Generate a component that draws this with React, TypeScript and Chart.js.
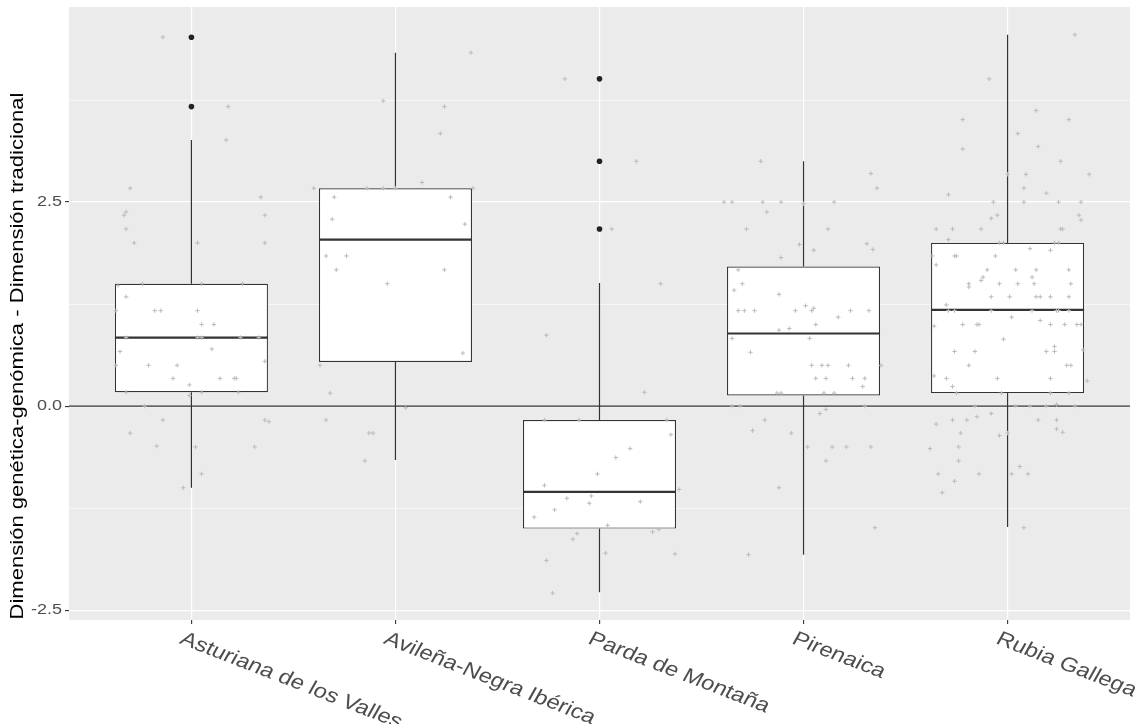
import { useEffect, useRef } from "react";
import { Chart, registerables } from "chart.js";

Chart.register(...registerables);

// ---------- data ----------
const categories = [
  "Asturiana de los Valles",
  "Avileña-Negra Ibérica",
  "Parda de Montaña",
  "Pirenaica",
  "Rubia Gallega",
];
const whiskerLow = [-1.0, -0.66, -2.28, -1.82, -1.48];
const q1 = [0.17, 0.54, -1.5, 0.13, 0.16];
const median = [0.84, 2.04, -1.05, 0.89, 1.18];
const q3 = [1.5, 2.67, -0.17, 1.71, 2.0];
const whiskerHigh = [3.26, 4.33, 1.51, 3.0, 4.55];
// [category number, value]
const outliers = [
  [1, 4.52],
  [1, 3.67],
  [3, 4.01],
  [3, 3.0],
  [3, 2.17],
];

// jittered observations: [horizontal jitter, value]
const jitterAsturiana = [
  [-0.14, 4.52], [0.18, 3.67], [0.17, 3.26], [-0.3, 2.67], [0.34, 2.56], [-0.32, 2.38], [-0.33, 2.34],
  [0.36, 2.34], [-0.32, 2.17], [-0.28, 2.0], [0.03, 2.0], [0.36, 2.0], [-0.36, 1.48], [-0.24, 1.5],
  [0.05, 1.5], [0.25, 1.5], [-0.32, 1.34], [-0.37, 1.17], [-0.18, 1.17], [-0.15, 1.17], [0.03, 1.17],
  [0.05, 1.0], [0.11, 1.0], [-0.32, 0.84], [0.03, 0.84], [0.05, 0.84], [0.24, 0.84], [0.33, 0.84],
  [-0.35, 0.67], [0.1, 0.7], [-0.37, 0.5], [-0.21, 0.5], [-0.07, 0.5], [0.36, 0.55], [-0.09, 0.34],
  [0.14, 0.34], [0.21, 0.34], [0.22, 0.34], [-0.01, 0.26], [-0.32, 0.17], [0.05, 0.17], [0.23, 0.17],
  [-0.01, 0.13], [-0.23, 0.0], [-0.14, -0.17], [0.36, -0.17], [0.38, -0.19], [-0.3, -0.33],
  [-0.17, -0.49], [0.02, -0.5], [0.31, -0.5], [0.05, -0.83], [-0.04, -1.0],
];
const jitterAvilena = [
  [0.37, 4.33], [-0.06, 3.74], [0.24, 3.67], [0.22, 3.34], [0.13, 2.74], [-0.4, 2.67], [-0.14, 2.67],
  [-0.06, 2.67], [0.0, 2.67], [0.38, 2.67], [-0.3, 2.56], [0.27, 2.56], [-0.31, 2.29], [0.34, 2.23],
  [-0.34, 1.84], [-0.24, 1.84], [-0.29, 1.67], [0.24, 1.67], [-0.04, 1.5], [0.33, 0.65], [-0.37, 0.5],
  [-0.32, 0.16], [0.05, -0.02], [-0.34, -0.17], [-0.13, -0.33], [-0.11, -0.33], [-0.15, -0.67],
];
const jitterParda = [
  [-0.17, 4.01], [0.18, 3.0], [0.06, 2.17], [0.3, 1.5], [-0.26, 0.87], [0.22, 0.17], [-0.27, -0.17],
  [-0.1, -0.17], [0.33, -0.17], [0.35, -0.35], [0.15, -0.52], [0.08, -0.63], [-0.01, -0.83],
  [-0.27, -0.97], [0.39, -1.02], [-0.16, -1.13], [-0.04, -1.1], [-0.05, -1.19], [0.2, -1.17],
  [-0.22, -1.27], [-0.32, -1.36], [0.04, -1.46], [-0.11, -1.56], [-0.13, -1.63], [0.29, -1.51],
  [0.26, -1.54], [-0.26, -1.89], [0.03, -1.8], [0.37, -1.81], [-0.23, -2.29],
];
const jitterPirenaica = [
  [-0.21, 3.0], [0.33, 2.85], [0.36, 2.67], [-0.39, 2.5], [-0.35, 2.5], [-0.2, 2.5], [-0.11, 2.5],
  [0.15, 2.5], [0.0, 2.48], [-0.18, 2.38], [-0.28, 2.17], [0.12, 2.17], [-0.02, 1.98], [0.05, 1.91],
  [0.31, 1.99], [0.34, 1.92], [-0.11, 1.82], [-0.32, 1.67], [-0.3, 1.5], [-0.34, 1.42], [-0.12, 1.37],
  [-0.32, 1.17], [-0.29, 1.17], [-0.24, 1.17], [-0.04, 1.17], [0.04, 1.17], [0.01, 1.23], [0.05, 1.2],
  [0.23, 1.17], [0.32, 1.17], [0.17, 1.09], [0.06, 1.0], [-0.12, 0.93], [-0.07, 0.95], [-0.35, 0.83],
  [0.03, 0.83], [-0.26, 0.66], [0.04, 0.5], [0.09, 0.5], [0.12, 0.5], [0.22, 0.5], [0.38, 0.5],
  [0.06, 0.34], [0.11, 0.34], [0.24, 0.34], [0.3, 0.34], [0.29, 0.24], [-0.13, 0.16], [-0.11, 0.16],
  [0.1, 0.16], [0.15, 0.16], [-0.35, 0.0], [-0.31, 0.0], [0.3, 0.0], [0.11, -0.04], [0.08, -0.09],
  [-0.19, -0.17], [-0.25, -0.3], [-0.06, -0.33], [0.02, -0.5], [0.14, -0.5], [0.21, -0.5], [0.33, -0.5],
  [0.11, -0.67], [-0.12, -1.0], [0.35, -1.49], [-0.27, -1.82],
];
const jitterRubia = [
  [0.33, 4.55], [-0.09, 4.01], [0.14, 3.62], [-0.22, 3.51], [0.3, 3.51], [0.05, 3.34], [-0.22, 3.15],
  [0.15, 3.18], [0.26, 3.0], [0.0, 2.84], [0.09, 2.84], [0.4, 2.84], [0.08, 2.67], [0.19, 2.61],
  [-0.29, 2.59], [-0.07, 2.5], [0.08, 2.5], [0.25, 2.5], [0.36, 2.5], [-0.05, 2.34], [-0.08, 2.3],
  [0.35, 2.34], [0.36, 2.28], [-0.35, 2.17], [-0.27, 2.17], [-0.13, 2.17], [0.26, 2.17], [0.27, 2.17],
  [-0.29, 2.04], [-0.04, 2.0], [-0.02, 2.0], [0.23, 2.0], [0.25, 2.0], [0.11, 1.93], [0.21, 1.91],
  [-0.37, 1.84], [-0.26, 1.84], [-0.25, 1.84], [-0.06, 1.84], [-0.35, 1.73], [-0.1, 1.67], [0.04, 1.67],
  [0.14, 1.67], [0.3, 1.67], [-0.12, 1.58], [-0.13, 1.54], [0.12, 1.58], [-0.19, 1.5], [-0.19, 1.46],
  [-0.04, 1.5], [0.05, 1.5], [0.13, 1.5], [0.31, 1.5], [-0.08, 1.34], [0.01, 1.34], [0.14, 1.34],
  [0.16, 1.34], [0.21, 1.34], [0.3, 1.34], [-0.3, 1.24], [-0.29, 1.17], [-0.26, 1.17], [-0.08, 1.17],
  [0.12, 1.17], [0.24, 1.17], [0.25, 1.17], [0.3, 1.17], [0.02, 1.09], [0.16, 1.05], [-0.36, 0.98],
  [-0.22, 1.0], [-0.15, 1.0], [-0.14, 1.0], [0.21, 1.0], [0.28, 1.0], [0.34, 1.0], [0.36, 1.0],
  [-0.02, 0.82], [0.23, 0.73], [0.37, 0.69], [-0.26, 0.67], [-0.16, 0.67], [0.19, 0.67], [0.23, 0.67],
  [-0.19, 0.5], [0.29, 0.5], [0.31, 0.5], [-0.36, 0.37], [-0.3, 0.34], [-0.05, 0.34], [0.21, 0.34],
  [0.39, 0.31], [-0.27, 0.24], [-0.25, 0.16], [-0.03, 0.16], [0.21, 0.16], [0.3, 0.16], [-0.16, 0.0],
  [0.04, 0.0], [0.11, 0.0], [0.19, 0.0], [0.33, 0.0], [0.24, 0.02], [-0.08, -0.09], [-0.15, -0.13],
  [-0.35, -0.22], [-0.27, -0.17], [-0.2, -0.17], [0.15, -0.17], [0.24, -0.17], [0.24, -0.28],
  [0.27, -0.32], [-0.23, -0.33], [-0.04, -0.36], [0.0, -0.33], [-0.24, -0.5], [-0.38, -0.52],
  [-0.24, -0.67], [0.06, -0.74], [-0.34, -0.83], [-0.14, -0.83], [0.02, -0.83], [0.1, -0.83],
  [-0.26, -0.92], [-0.32, -1.06], [0.08, -1.49],
];
const jitterByCategory = [jitterAsturiana, jitterAvilena, jitterParda, jitterPirenaica, jitterRubia];

const yMajorTicks = [-2.5, 0, 2.5];
const yMinorTicks = [-1.25, 1.25, 3.75];
const yTickLabels = ["-2.5", "0.0", "2.5"];
const yMin = -2.62;
const yMax = 4.89;
const xMin = 0.4;
const xMax = 5.6;
const referenceLineValue = 0;
const yTitle = "Dimensión genética-genómica - Dimensión tradicional";

// ---------- style ----------
const BOX_HALF = 0.375;
const SX = 1.2; // horizontal stretch of the reference's text
const FONT = '"Liberation Sans", Arial, sans-serif';
const DARK = "#333333";

const ggPlugin = {
  id: "ggStyle",
  beforeDraw(chart: any) {
    const { ctx, chartArea: a } = chart;
    ctx.save();
    ctx.fillStyle = "#EBEBEB";
    ctx.fillRect(a.left, a.top, a.right - a.left, a.bottom - a.top);
    ctx.restore();
  },
  afterDraw(chart: any) {
    const { ctx, chartArea: a } = chart;
    const ys = chart.scales.y;
    const xs = chart.scales.x;
    // y tick labels
    ctx.save();
    ctx.fillStyle = "#4D4D4D";
    ctx.font = `15px ${FONT}`;
    ctx.textAlign = "right";
    ctx.textBaseline = "middle";
    yMajorTicks.forEach((v, i) => {
      const py = ys.getPixelForValue(v);
      ctx.save();
      ctx.translate(a.left - 7, py);
      ctx.scale(SX, 1);
      ctx.fillText(yTickLabels[i], 0, 0);
      ctx.restore();
    });
    // x labels
    ctx.font = `20px ${FONT}`;
    ctx.textAlign = "left";
    ctx.textBaseline = "top";
    categories.forEach((c, i) => {
      const px = xs.getPixelForValue(i + 1);
      ctx.save();
      ctx.translate(px - 5, a.bottom + 9);
      ctx.scale(SX, 1);
      ctx.rotate((25 * Math.PI) / 180);
      ctx.fillText(c, 0, 0);
      ctx.restore();
    });
    // y title
    ctx.fillStyle = "#000000";
    ctx.font = `18px ${FONT}`;
    ctx.textAlign = "center";
    ctx.textBaseline = "middle";
    ctx.save();
    ctx.translate(18, 356);
    ctx.scale(1.05, 1.225);
    ctx.rotate(-Math.PI / 2);
    ctx.fillText(yTitle, 0, 0);
    ctx.restore();
    ctx.restore();
  },
};

export default function App() {
  const canvasRef = useRef<HTMLCanvasElement | null>(null);

  useEffect(() => {
    document.body.style.margin = "0";
    const canvas = canvasRef.current;
    if (!canvas) return;

    const whiskerData = categories.flatMap((_, i) => [
      { x: i + 1, y: whiskerHigh[i] },
      { x: i + 1, y: q3[i] },
      { x: i + 1, y: null },
      { x: i + 1, y: q1[i] },
      { x: i + 1, y: whiskerLow[i] },
      { x: i + 1, y: null },
    ]);
    const boxData = categories.map((_, i) => ({ x: i + 1, y: [q1[i], q3[i]] }));
    const medianData = categories.flatMap((_, i) => [
      { x: i + 1 - BOX_HALF, y: median[i] },
      { x: i + 1 + BOX_HALF, y: median[i] },
      { x: i + 1, y: null },
    ]);
    const jitterData = jitterByCategory.flatMap((pts, i) =>
      pts.map(([dx, v]) => ({ x: i + 1 + dx, y: v }))
    );
    const outlierData = outliers.map(([c, v]) => ({ x: c, y: v }));

    const chart = new Chart(canvas, {
      type: "scatter",
      data: {
        datasets: [
          {
            type: "line",
            data: whiskerData as any,
            borderColor: DARK,
            borderWidth: 1.2,
            pointRadius: 0,
            spanGaps: false,
            order: 6,
          } as any,
          {
            type: "bar",
            data: boxData as any,
            backgroundColor: "#FFFFFF",
            borderColor: DARK,
            borderWidth: 1.2,
            borderSkipped: false,
            barPercentage: 0.75,
            categoryPercentage: 1,
            order: 5,
          } as any,
          {
            type: "line",
            data: medianData as any,
            borderColor: DARK,
            borderWidth: 2.2,
            pointRadius: 0,
            spanGaps: false,
            order: 4,
          } as any,
          {
            type: "line",
            data: [
              { x: xMin, y: referenceLineValue },
              { x: xMax, y: referenceLineValue },
            ],
            borderColor: DARK,
            borderWidth: 1.3,
            pointRadius: 0,
            order: 3,
          } as any,
          {
            type: "scatter",
            data: jitterData,
            pointStyle: "cross",
            pointRadius: 2.2,
            borderColor: "#BBBBBB",
            borderWidth: 1,
            order: 2,
          } as any,
          {
            type: "scatter",
            data: outlierData,
            pointStyle: "circle",
            pointRadius: 2.8,
            backgroundColor: "#222222",
            borderWidth: 0,
            order: 1,
          } as any,
        ],
      },
      options: {
        animation: false,
        responsive: true,
        maintainAspectRatio: false,
        events: [],
        layout: { padding: { top: 7, right: 11, left: 0, bottom: 0 } },
        plugins: { legend: { display: false }, tooltip: { enabled: false } },
        scales: {
          x: {
            type: "linear",
            min: xMin,
            max: xMax,
            offset: false,
            afterBuildTicks: (s: any) => {
              s.ticks = categories.map((_, i) => ({ value: i + 1 }));
            },
            afterFit: (s: any) => {
              s.height = 104;
            },
            ticks: { display: false },
            border: { display: false },
            grid: {
              offset: false,
              color: "#FFFFFF",
              lineWidth: 1.2,
              drawTicks: true,
              tickLength: 4,
              tickColor: DARK,
              tickWidth: 1.1,
            },
          },
          y: {
            type: "linear",
            min: yMin,
            max: yMax,
            afterBuildTicks: (s: any) => {
              s.ticks = [...yMajorTicks, ...yMinorTicks]
                .sort((p, q) => p - q)
                .map((v) => ({ value: v }));
            },
            afterFit: (s: any) => {
              s.width = 69;
            },
            ticks: { display: false },
            border: { display: false },
            grid: {
              color: "#FFFFFF",
              lineWidth: (c: any) =>
                c.tick && yMajorTicks.includes(c.tick.value) ? 1.2 : 0.6,
              drawTicks: true,
              tickLength: 4,
              tickColor: (c: any) =>
                c.tick && yMajorTicks.includes(c.tick.value) ? DARK : "rgba(0,0,0,0)",
              tickWidth: 1.1,
            },
          },
        },
      },
      plugins: [ggPlugin],
    });

    return () => chart.destroy();
  }, []);

  return (
    <div style={{ width: "1141px", height: "724px", position: "relative", background: "#FFFFFF" }}>
      <canvas ref={canvasRef} />
    </div>
  );
}
